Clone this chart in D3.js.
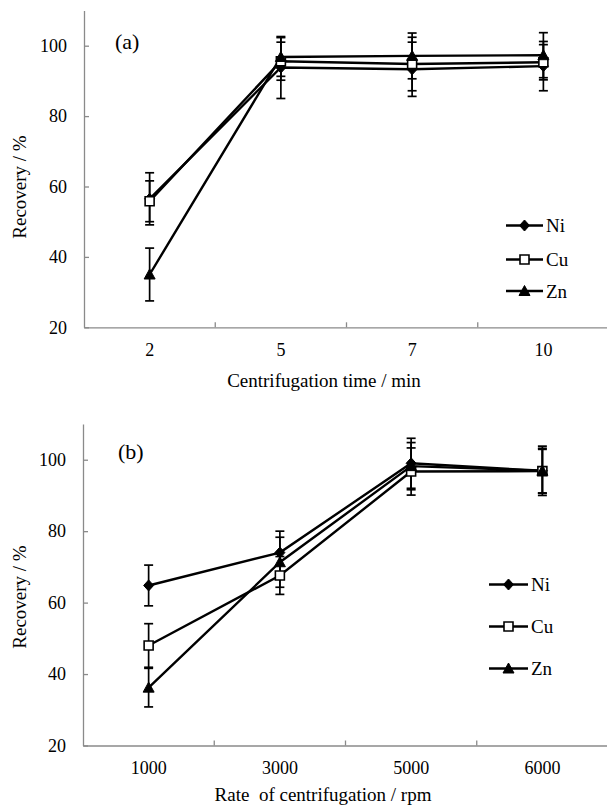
<!DOCTYPE html>
<html>
<head>
<meta charset="utf-8">
<script src="https://cdn.jsdelivr.net/npm/d3@7/dist/d3.min.js"></script>
<style>
  html, body { margin: 0; padding: 0; background: #fff; }
  svg { display: block; }
</style>
</head>
<body>
<svg id="chart" width="607" height="805"></svg>
<script>
// ---------- data ----------
const seriesNames = ["Ni", "Cu", "Zn"];

const timeCats = ["2", "5", "7", "10"];
const niTime = [56.5, 93.8, 93.3, 94.2];
const niTimeErr = [7.4, 8.8, 7.7, 7.0];
const cuTime = [55.8, 95.6, 94.8, 95.3];
const cuTimeErr = [5.8, 5.4, 7.6, 5.0];
const znTime = [35.0, 96.8, 97.1, 97.3];
const znTimeErr = [7.5, 5.5, 6.5, 6.4];

const rateCats = ["1000", "3000", "5000", "6000"];
const niRate = [64.8, 74.0, 99.0, 96.9];
const niRateErr = [5.7, 6.0, 7.0, 6.9];
const cuRate = [48.0, 67.6, 96.7, 96.8];
const cuRateErr = [6.1, 5.3, 6.6, 6.1];
const znRate = [36.2, 71.3, 98.2, 96.9];
const znRateErr = [5.4, 7.0, 6.6, 6.3];

const yTicks = [20, 40, 60, 80, 100];
const yDomain = [20, 110];

// ---------- drawing ----------
const FONT = "'Liberation Serif', 'Times New Roman', 'DejaVu Serif', serif";
const svg = d3.select("#chart");
const axisColor = "#8a8a8a";

function markerPath(type) {
  if (type === "Ni") return "M0,-5.5L5,0L0,5.5L-5,0Z";
  if (type === "Cu") return "M-4.5,-4.5H4.5V4.5H-4.5Z";
  return "M0,-5.5L5.5,4.5L-5.5,4.5Z";
}

function drawPanel(cfg) {
  const g = svg.append("g");
  const x = d3.scaleBand().domain(cfg.cats).range([cfg.left, cfg.right]);
  const y = d3.scaleLinear().domain(yDomain).range([cfg.bottom, cfg.top]);

  // y axis
  const yAxis = d3.axisLeft(y).tickValues(yTicks).tickSizeInner(-5).tickSizeOuter(0).tickPadding(17);
  const ya = g.append("g").attr("transform", `translate(${cfg.left},0)`).call(yAxis);
  ya.attr("font-family", FONT).attr("font-size", 18);
  ya.select(".domain").attr("stroke", axisColor).attr("stroke-width", 1.3);
  ya.selectAll(".tick line").attr("stroke", axisColor).attr("stroke-width", 1.3);
  ya.selectAll(".tick text").attr("fill", "#000").style("font-family", FONT).style("font-size", "18px");

  // x axis
  const xAxis = d3.axisBottom(x).tickSize(0).tickPadding(16);
  const xa = g.append("g").attr("transform", `translate(0,${cfg.bottom})`).call(xAxis);
  xa.attr("font-family", FONT).attr("font-size", 18);
  xa.select(".domain").attr("stroke", axisColor).attr("stroke-width", 1.3);
  xa.selectAll(".tick text").attr("fill", "#000").style("font-family", FONT).style("font-size", "18px");
  // boundary ticks (inside)
  g.selectAll(".bt").data(cfg.cats.slice(1)).enter().append("line")
    .attr("x1", d => x(d)).attr("x2", d => x(d))
    .attr("y1", cfg.bottom).attr("y2", cfg.bottom - 5)
    .attr("stroke", axisColor).attr("stroke-width", 1.3);

  // axis titles
  g.append("text").attr("x", cfg.xTitleX).attr("y", cfg.xTitleY)
    .attr("text-anchor", "middle").style("font-family", FONT).style("font-size", "19px")
    .style("white-space", "pre")
    .text(cfg.xTitle);
  g.append("text").attr("transform", `translate(26,${cfg.yTitleY}) rotate(-90)`)
    .attr("text-anchor", "middle").style("font-family", FONT).style("font-size", "19px")
    .text("Recovery / %");

  // panel label
  g.append("text").attr("x", cfg.labelX).attr("y", cfg.labelY)
    .style("font-family", FONT).style("font-size", "22px").text(cfg.label);

  const cx = d => x(d) + x.bandwidth() / 2;

  const series = seriesNames.map((n, i) => ({ name: n, vals: cfg.vals[i], errs: cfg.errs[i] }));

  // error bars
  series.forEach(s => {
    const eb = g.append("g").attr("stroke", "#000").attr("stroke-width", 1.7);
    cfg.cats.forEach((c, i) => {
      const lo = y(s.vals[i] - s.errs[i]), hi = y(s.vals[i] + s.errs[i]);
      eb.append("line").attr("x1", cx(c)).attr("x2", cx(c)).attr("y1", lo).attr("y2", hi);
      eb.append("line").attr("x1", cx(c) - 4.5).attr("x2", cx(c) + 4.5).attr("y1", lo).attr("y2", lo);
      eb.append("line").attr("x1", cx(c) - 4.5).attr("x2", cx(c) + 4.5).attr("y1", hi).attr("y2", hi);
    });
  });

  // lines
  const line = d3.line().x((d, i) => cx(cfg.cats[i])).y(d => y(d));
  series.forEach(s => {
    g.append("path").attr("d", line(s.vals)).attr("fill", "none")
      .attr("stroke", "#000").attr("stroke-width", 2.4);
  });

  // markers
  series.forEach(s => {
    g.selectAll(null).data(s.vals).enter().append("path")
      .attr("d", markerPath(s.name))
      .attr("transform", (d, i) => `translate(${cx(cfg.cats[i])},${y(d)})`)
      .attr("fill", s.name === "Cu" ? "#fff" : "#000")
      .attr("stroke", "#000").attr("stroke-width", s.name === "Cu" ? 1.6 : 1);
  });

  // legend
  seriesNames.forEach((n, i) => {
    const ly = cfg.legY[i];
    g.append("line").attr("x1", cfg.legX0).attr("x2", cfg.legX1).attr("y1", ly).attr("y2", ly)
      .attr("stroke", "#000").attr("stroke-width", 2.4);
    g.append("path").attr("d", markerPath(n))
      .attr("transform", `translate(${(cfg.legX0 + cfg.legX1) / 2},${ly})`)
      .attr("fill", n === "Cu" ? "#fff" : "#000")
      .attr("stroke", "#000").attr("stroke-width", n === "Cu" ? 1.6 : 1);
    g.append("text").attr("x", cfg.legX1 + 3).attr("y", ly + 6.5)
      .style("font-family", FONT).style("font-size", "19px").text(n);
  });
}

drawPanel({
  cats: timeCats, left: 84, right: 609, top: 10.5, bottom: 327.3,
  vals: [niTime, cuTime, znTime], errs: [niTimeErr, cuTimeErr, znTimeErr],
  xTitle: "Centrifugation time / min", xTitleX: 324, xTitleY: 386.5, yTitleY: 187,
  label: "(a)", labelX: 115, labelY: 49,
  legX0: 506, legX1: 543, legY: [225.5, 259.5, 291]
});

drawPanel({
  cats: rateCats, left: 83, right: 608, top: 424, bottom: 745.5,
  vals: [niRate, cuRate, znRate], errs: [niRateErr, cuRateErr, znRateErr],
  xTitle: "Rate  of centrifugation / rpm", xTitleX: 323, xTitleY: 801, yTitleY: 597,
  label: "(b)", labelX: 118, labelY: 459,
  legX0: 489, legX1: 528, legY: [584.5, 626.5, 668.5]
});
</script>
</body>
</html>
